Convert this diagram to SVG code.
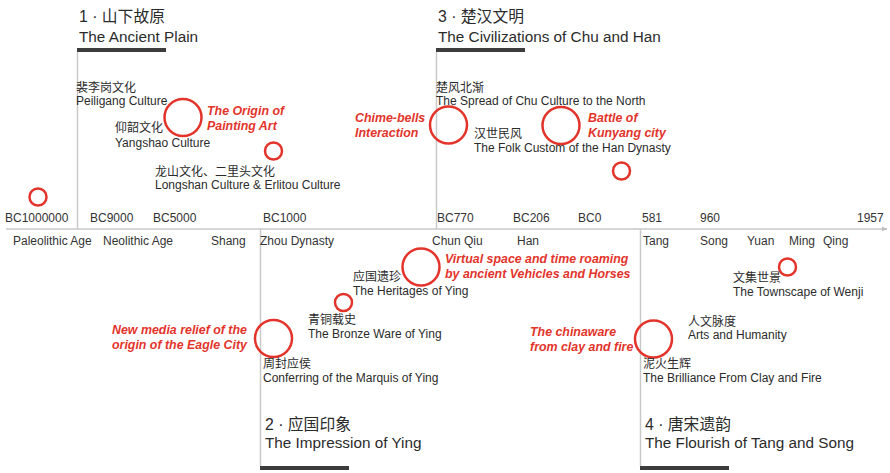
<svg xmlns="http://www.w3.org/2000/svg" width="890" height="473" viewBox="0 0 890 473">
<defs>
<style>
text{font-family:"Liberation Sans","Noto Sans CJK SC",sans-serif;fill:#2b2b2b;}
.zh{font-size:12px;}
.en{font-size:12px;}
.t1{font-size:15.8px;}
.t2{font-size:15.3px;}
.ax{font-size:12px;fill:#333;}
.red{font-size:12.4px;font-weight:bold;font-style:italic;fill:#e3342b;}
.c{fill:none;stroke:#e3342b;stroke-width:2.5;}
.v{stroke:#c9c9c9;stroke-width:1.5;fill:none;}
.bar{fill:#3c3c3c;}
</style>
<marker id="arr" viewBox="0 0 10 10" refX="9" refY="5" markerWidth="6" markerHeight="6" orient="auto" markerUnits="userSpaceOnUse">
<path d="M0,1 L10,5 L0,9 z" fill="#bdbdbd"/>
</marker>
</defs>
<rect width="890" height="473" fill="#fff"/>

<g id="connectors">
<line class="v" x1="6" y1="229" x2="887" y2="229" marker-end="url(#arr)"/>
<line class="v" x1="77.5" y1="52" x2="77.5" y2="229"/>
<line class="v" x1="436.5" y1="52" x2="436.5" y2="229"/>
<line class="v" x1="260.5" y1="229" x2="260.5" y2="466"/>
<line class="v" x1="640.5" y1="229" x2="640.5" y2="466"/>
</g>

<g id="axis-labels">
<text class="ax" x="5" y="222">BC1000000</text>
<text class="ax" x="90" y="222">BC9000</text>
<text class="ax" x="153" y="222">BC5000</text>
<text class="ax" x="263" y="222">BC1000</text>
<text class="ax" x="437" y="222">BC770</text>
<text class="ax" x="513" y="222">BC206</text>
<text class="ax" x="578" y="222">BC0</text>
<text class="ax" x="642" y="222">581</text>
<text class="ax" x="700" y="222">960</text>
<text class="ax" x="857" y="222">1957</text>
<text class="ax" x="13" y="245">Paleolithic Age</text>
<text class="ax" x="103" y="245">Neolithic Age</text>
<text class="ax" x="211" y="245">Shang</text>
<text class="ax" x="260" y="245">Zhou Dynasty</text>
<text class="ax" x="432" y="245">Chun Qiu</text>
<text class="ax" x="517" y="245">Han</text>
<text class="ax" x="643" y="245">Tang</text>
<text class="ax" x="700" y="245">Song</text>
<text class="ax" x="747" y="245">Yuan</text>
<text class="ax" x="789" y="245">Ming</text>
<text class="ax" x="823" y="245">Qing</text>
</g>

<g id="section1">
<text class="t1" x="79" y="22">1 · 山下故原</text>
<text class="t2" x="79" y="42">The Ancient Plain</text>
<rect class="bar" x="77" y="48" width="89" height="4"/>
</g>
<g id="section2">
<text class="t1" x="265" y="430">2 · 应国印象</text>
<text class="t2" x="265" y="448">The Impression of Ying</text>
<rect class="bar" x="260" y="466" width="89" height="4"/>
</g>
<g id="section3">
<text class="t1" x="438" y="22">3 · 楚汉文明</text>
<text class="t2" x="438" y="42">The Civilizations of Chu and Han</text>
<rect class="bar" x="436" y="48" width="89" height="4"/>
</g>
<g id="section4">
<text class="t1" x="645" y="430">4 · 唐宋遗韵</text>
<text class="t2" x="645" y="448">The Flourish of Tang and Song</text>
<rect class="bar" x="640" y="466" width="89" height="4"/>
</g>

<g id="paleolithic-marker">
<circle class="c" cx="38" cy="197" r="8.5"/>
</g>
<g id="peiligang">
<text class="zh" x="76" y="92">裴李岗文化</text>
<text class="en" x="76" y="105">Peiligang Culture</text>
</g>
<g id="origin-painting">
<circle class="c" cx="183" cy="117.5" r="18.5"/>
<text class="red" x="207" y="115">The Origin of</text>
<text class="red" x="207" y="130">Painting Art</text>
</g>
<g id="yangshao">
<text class="zh" x="115" y="132">仰韶文化</text>
<text class="en" x="115" y="147">Yangshao Culture</text>
</g>
<g id="longshan-marker">
<circle class="c" cx="273.5" cy="151" r="8.5"/>
</g>
<g id="longshan">
<text class="zh" x="155" y="176">龙山文化、二里头文化</text>
<text class="en" x="155" y="189">Longshan Culture &amp; Erlitou Culture</text>
</g>

<g id="chu-spread">
<text class="zh" x="436" y="92">楚风北渐</text>
<text class="en" x="436" y="105">The Spread of Chu Culture to the North</text>
</g>
<g id="chime-bells">
<circle class="c" cx="448.5" cy="125" r="18.5"/>
<text class="red" x="355" y="122">Chime-bells</text>
<text class="red" x="355" y="137">Interaction</text>
</g>
<g id="han-folk">
<text class="zh" x="474" y="138">汉世民风</text>
<text class="en" x="474" y="152">The Folk Custom of the Han Dynasty</text>
</g>
<g id="kunyang">
<circle class="c" cx="561" cy="125.5" r="18.5"/>
<text class="red" x="588" y="122">Battle of</text>
<text class="red" x="588" y="137">Kunyang city</text>
</g>
<g id="han-marker">
<circle class="c" cx="621.5" cy="171" r="8.5"/>
</g>

<g id="vehicles">
<circle class="c" cx="421" cy="267" r="18.5"/>
<text class="red" x="445" y="263">Virtual space and time roaming</text>
<text class="red" x="445" y="278">by ancient Vehicles and Horses</text>
</g>
<g id="heritages">
<text class="zh" x="353" y="281">应国遗珍</text>
<text class="en" x="353" y="295">The Heritages of Ying</text>
</g>
<g id="bronze">
<circle class="c" cx="343.5" cy="302.5" r="8.5"/>
<text class="zh" x="308" y="324">青铜载史</text>
<text class="en" x="308" y="338">The Bronze Ware of Ying</text>
</g>
<g id="eagle-city">
<circle class="c" cx="273.5" cy="338.5" r="18.5"/>
<text class="red" x="112" y="334">New media relief of the</text>
<text class="red" x="112" y="349">origin of the Eagle City</text>
</g>
<g id="conferring">
<text class="zh" x="263" y="368">周封应侯</text>
<text class="en" x="263" y="382">Conferring of the Marquis of Ying</text>
</g>

<g id="wenji">
<circle class="c" cx="787.5" cy="267" r="8.5"/>
<text class="zh" x="733" y="282">文集世景</text>
<text class="en" x="733" y="296">The Townscape of Wenji</text>
</g>
<g id="arts">
<text class="zh" x="688" y="326">人文脉度</text>
<text class="en" x="688" y="339">Arts and Humanity</text>
</g>
<g id="chinaware">
<circle class="c" cx="653.5" cy="339" r="18.5"/>
<text class="red" x="530" y="336">The chinaware</text>
<text class="red" x="530" y="351">from clay and fire</text>
</g>
<g id="brilliance">
<text class="zh" x="643" y="368">泥火生辉</text>
<text class="en" x="643" y="382">The Brilliance From Clay and Fire</text>
</g>
</svg>
